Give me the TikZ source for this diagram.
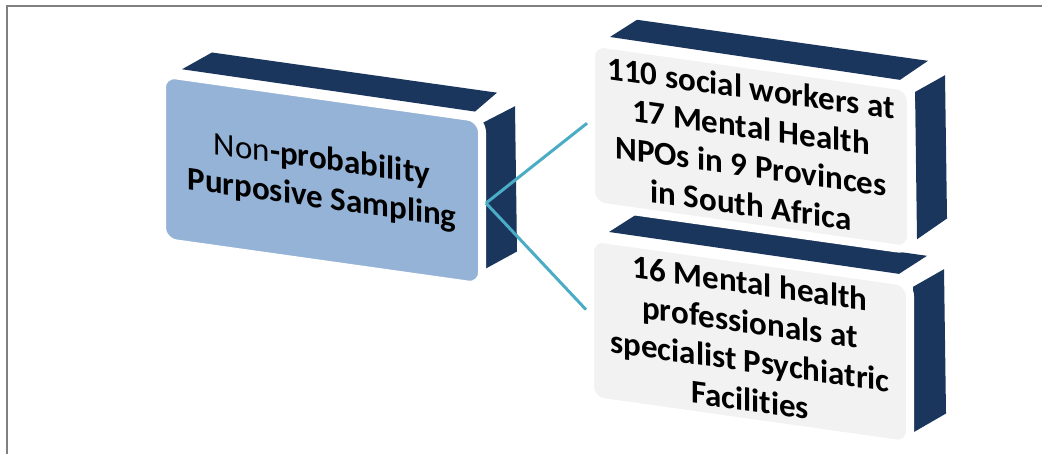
\documentclass[tikz,border=0pt]{standalone}
\usepackage{fontspec}
\setmainfont{Carlito}[Ligatures=NoCommon]
\usepackage{xcolor}
\definecolor{navy}{HTML}{1B365D}
\definecolor{steelface}{HTML}{95B3D7}
\definecolor{greyface}{HTML}{F2F2F2}
\definecolor{linkblue}{HTML}{4BACC6}

\begin{document}
\begin{tikzpicture}[x=0.5pt,y=-0.5pt,
  front/.style={draw=white, line width=4pt, rounded corners=7pt, minimum width=160pt, minimum height=81.5pt, inner sep=0pt, align=center, transform shape, font=\fontsize{16.5}{19.5}\selectfont\bfseries},
  backface/.style={fill=navy},
  link/.style={linkblue, line width=1.5pt}]
\useasboundingbox (0,0) rectangle (1042,454);
\draw[gray, line width=1.2pt] (7,454) -- (7,6) -- (1042,6);

% left block
\begin{scope}[shift={(166,78)}, yslant=-0.141]
\fill[backface] (16,-11) -- (46,-32) -- (331,-32) -- (309,-10) -- cycle;
\fill[backface] (317,0) -- (349,-21) -- (351,124) -- (319,146) -- cycle;
\node[front, fill=steelface, minimum height=84pt] (sampling) at (156,80) {{\mdseries Non}-probability\\Purposive Sampling};
\end{scope}

% lower right block
\begin{scope}[shift={(595,242)}, yslant=-0.141]
\fill[backface] (14,-12) -- (41,-33) -- (332,-33) -- (304,-11) -- cycle;
\fill[backface] (318,0) -- (349,-22) -- (351,122) -- (319,145) -- cycle;
\node[front, fill=greyface] (professionals) at (155,77.5) {16 Mental health\\professionals at\\specialist Psychiatric\\Facilities};
\end{scope}

% upper right block
\begin{scope}[shift={(596,47)}, yslant=-0.141]
\fill[backface] (14,-12) -- (41,-33) -- (332,-33) -- (304,-10) -- cycle;
\fill[backface] (319,0) -- (349,-21) -- (351,122) -- (321,147) -- cycle;
\node[front, fill=greyface] (socialworkers) at (155,77.5) {110 social workers at\\17 Mental Health\\NPOs in 9 Provinces\\in South Africa};
\end{scope}

\draw[link] (sampling.east) -- (socialworkers.west);
\draw[link] (sampling.east) -- (professionals.177);
\end{tikzpicture}
\end{document}
